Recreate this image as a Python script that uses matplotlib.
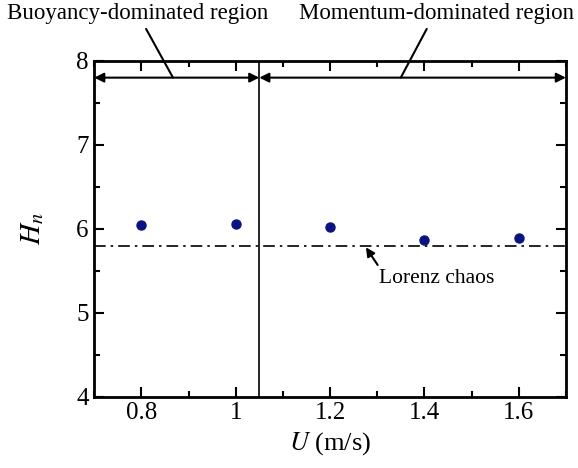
import numpy as np
import matplotlib.pyplot as plt
from matplotlib.ticker import MultipleLocator

plt.rcParams['font.family'] = ['Liberation Serif', 'DejaVu Serif']
plt.rcParams['mathtext.fontset'] = 'stix'

# flow velocity and entropy values
U = [0.8, 1.0, 1.2, 1.4, 1.6]
Hn = [6.05, 6.055, 6.02, 5.87, 5.89]
lorenz_level = 5.8
boundary_U = 1.05

fig = plt.figure(figsize=(5.78, 4.68), dpi=100)
ax = fig.add_axes([0.163, 0.152, 0.816, 0.718])

ax.plot(U, Hn, 'o', color='#0a1480', markersize=6.5, zorder=3)
ax.axhline(lorenz_level, color='black', linestyle=(0, (7, 3, 1.5, 3)), linewidth=1.2)
ax.axvline(boundary_U, color='black', linewidth=1.2)

ax.set_xlim(0.7, 1.7)
ax.set_ylim(4, 8)
ax.set_xticks([0.8, 1.0, 1.2, 1.4, 1.6])
ax.set_xticklabels(['0.8', '1', '1.2', '1.4', '1.6'])
ax.set_yticks([4, 5, 6, 7, 8])
ax.xaxis.set_minor_locator(MultipleLocator(0.1))
ax.yaxis.set_minor_locator(MultipleLocator(0.5))
ax.tick_params(which='both', direction='in', top=True, right=True, width=1.5)
ax.tick_params(which='major', length=7, labelsize=18, pad=4)
ax.tick_params(which='minor', length=4)
for s in ax.spines.values():
    s.set_linewidth(2)

ax.set_xlabel('$U$ (m/s)', fontsize=19, labelpad=4)
ax.set_ylabel('$H_n$', fontsize=21, labelpad=22)

# region arrows
arr = dict(arrowstyle='<|-|>', color='black', lw=1.5, mutation_scale=14, shrinkA=0, shrinkB=0)
ax.annotate('', xy=(0.7, 7.8), xytext=(boundary_U, 7.8), arrowprops=arr)
ax.annotate('', xy=(boundary_U, 7.8), xytext=(1.7, 7.8), arrowprops=arr)

line = dict(arrowstyle='-', color='black', lw=1.5, shrinkA=0, shrinkB=0)
ax.text(0.791, 8.56, 'Buoyancy-dominated region', ha='center', va='center',
        fontsize=16.5, clip_on=False)
ax.text(1.426, 8.56, 'Momentum-dominated region', ha='center', va='center',
        fontsize=16.5, clip_on=False)
ax.annotate('', xy=(0.867, 7.8), xytext=(0.81, 8.38), arrowprops=line,
            annotation_clip=False)
ax.annotate('', xy=(1.35, 7.8), xytext=(1.405, 8.38), arrowprops=line,
            annotation_clip=False)

ax.text(1.303, 5.41, 'Lorenz chaos', ha='left', va='center', fontsize=15.5)
ax.annotate('', xy=(1.276, 5.78), xytext=(1.301, 5.57),
            arrowprops=dict(arrowstyle='-|>', color='black', lw=1.5,
                            mutation_scale=13, shrinkA=0, shrinkB=0))

fig.savefig('out.png', dpi=100)
